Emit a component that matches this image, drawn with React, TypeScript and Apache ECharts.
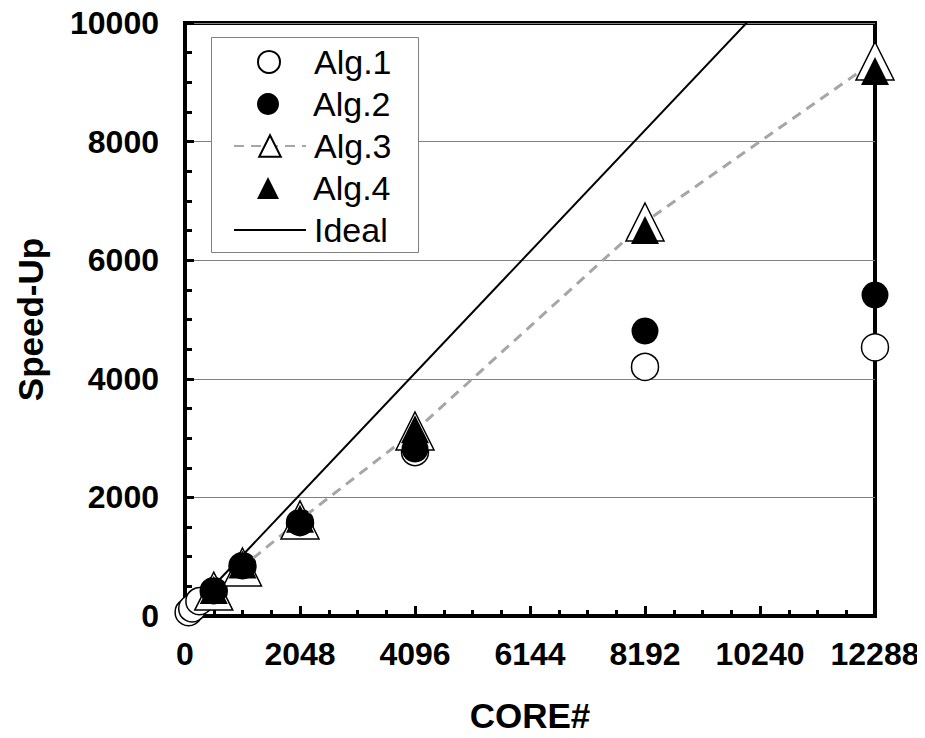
import React, { useEffect, useRef } from "react";
import * as echarts from "echarts";

const alg1Cores = [64, 128, 256, 512, 1024, 2048, 4096, 8192, 12288];
const alg1 = [64, 128, 250, 420, 840, 1570, 2765, 4200, 4530];
const cores = [512, 1024, 2048, 4096, 8192, 12288];
const alg2 = [420, 843, 1570, 2815, 4806, 5413];
const alg3 = [420, 826, 1620, 3120, 6644, 9359];
const alg4 = [440, 870, 1640, 3150, 6509, 9190];
const idealCores = [0, 12288];
const xTicks = [0, 2048, 4096, 6144, 8192, 10240, 12288];
const legendNames = ["Alg.1", "Alg.2", "Alg.3", "Alg.4", "Ideal"];

const FONT = "'Liberation Sans', Arial, sans-serif";

const zip = (xs: number[], ys: number[]) => xs.map((x, i) => [x, ys[i]]);

export default function App() {
  const ref = useRef<HTMLDivElement>(null);
  useEffect(() => {
    if (!ref.current) return;
    const chart = echarts.init(ref.current, undefined, { renderer: "svg" });

    const centers = [62, 104, 146, 188, 230];
    const lineItem = [false, false, true, false, true];
    const legends = legendNames.map((name, i) => {
      const isLine = lineItem[i];
      const iw = isLine ? 72 : 22;
      const ih = isLine ? 27 : 22;
      return {
        orient: "vertical",
        left: isLine ? 233 : 257,
        top: centers[i] - 17,
        data: [name],
        padding: 0,
        itemWidth: iw,
        itemHeight: ih,
        selectedMode: false,
        z: 5,
        textStyle: {
          fontSize: 34,
          lineHeight: 34,
          color: "#000",
          fontFamily: FONT,
          padding: [0, 0, 0, isLine ? 3 : 29],
        },
      };
    });

    chart.setOption({
      animation: false,
      backgroundColor: "#fff",
      textStyle: { fontFamily: FONT },
      grid: {
        left: 185,
        right: 50,
        top: 23,
        bottom: 122,
        show: true,
        borderColor: "#000",
        borderWidth: 4,
        backgroundColor: "transparent",
        containLabel: false,
        outerBoundsMode: "none",
      },
      graphic: [
        {
          type: "rect",
          z: 3,
          shape: { x: 211.5, y: 37.5, width: 207, height: 215 },
          style: { fill: "#fff", stroke: "#808080", lineWidth: 1 },
        },
      ],
      legend: legends,
      xAxis: {
        type: "value",
        min: 0,
        max: 12288,
        interval: 2048,
        name: "CORE#",
        nameLocation: "middle",
        nameGap: 82,
        nameTextStyle: { fontSize: 35, fontWeight: "bold", color: "#000", fontFamily: FONT },
        axisLine: { show: true, lineStyle: { color: "#000", width: 4 } },
        axisTick: { show: true, inside: true, length: 10, lineStyle: { color: "#000", width: 3 } },
        minorTick: { show: true, splitNumber: 4, length: 6, lineStyle: { color: "#000", width: 3 } },
        splitLine: { show: false },
        axisLabel: {
          fontSize: 32,
          fontWeight: "bold",
          color: "#000",
          margin: 22,
          fontFamily: FONT,
          formatter: (v: number) => (xTicks.includes(v) ? String(v) : ""),
        },
      },
      yAxis: {
        type: "value",
        min: 0,
        max: 10000,
        interval: 2000,
        name: "Speed-Up",
        nameLocation: "middle",
        nameGap: 137,
        nameRotate: 90,
        nameTextStyle: { fontSize: 35, fontWeight: "bold", color: "#000", fontFamily: FONT },
        axisLine: { show: true, lineStyle: { color: "#000", width: 4 } },
        axisTick: { show: true, inside: true, length: 9, lineStyle: { color: "#000", width: 3 } },
        minorTick: { show: true, splitNumber: 4, length: 7, lineStyle: { color: "#000", width: 3 } },
        splitLine: { show: true, lineStyle: { color: "#808080", width: 1 } },
        axisLabel: {
          fontSize: 32,
          fontWeight: "bold",
          color: "#000",
          margin: 26,
          fontFamily: FONT,
          formatter: (v: number) => String(v),
        },
      },
      series: [
        {
          name: "Ideal",
          type: "line",
          data: zip(idealCores, idealCores),
          symbol: "none",
          clip: true,
          itemStyle: { color: "rgba(0,0,0,0)", borderWidth: 0 },
          lineStyle: { color: "#000", width: 2 },
          z: 1,
        },
        {
          name: "Alg.1",
          type: "scatter",
          data: zip(alg1Cores, alg1),
          symbol: "circle",
          symbolSize: 27,
          itemStyle: { color: "#fff", borderColor: "#000", borderWidth: 1.5, opacity: 1 },
          z: 2,
        },
        {
          name: "Alg.3",
          type: "line",
          data: zip(cores, alg3),
          symbol: "triangle",
          symbolSize: 38,
          showAllSymbol: true,
          itemStyle: { color: "#fff", borderColor: "#000", borderWidth: 1.5 },
          lineStyle: { color: "#a6a6a6", width: 3, type: [10, 7] },
          z: 3,
        },
        {
          name: "Alg.2",
          type: "scatter",
          data: zip(cores, alg2),
          symbol: "circle",
          symbolSize: 27,
          itemStyle: { color: "#000", opacity: 1 },
          z: 4,
        },
        {
          name: "Alg.4",
          type: "scatter",
          data: zip(cores, alg4),
          symbol: "triangle",
          symbolSize: 28,
          itemStyle: { color: "#000", opacity: 1 },
          z: 4,
        },
      ],
    });
    return () => chart.dispose();
  }, []);
  return <div ref={ref} style={{ width: 925, height: 738, margin: -8 }} />;
}
